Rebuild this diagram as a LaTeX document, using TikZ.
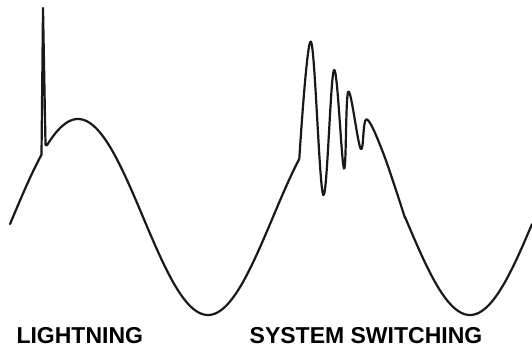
\documentclass[tikz,border=0pt]{standalone}
\usepackage{fontspec}
\newfontfamily\labfont{Liberation Sans}
\begin{document}
\begin{tikzpicture}[x=1pt,y=-1pt,
  declare function={sa(\t)=217-98*sin((\t-13)*1.384615); sb(\t)=217+98*sin((\t-405)*1.384615);},
  wave/.style={draw=black!90, line width=2.2pt, line join=round, line cap=round},
  lbl/.style={inner sep=0pt, anchor=base west, font=\labfont\bfseries\fontsize{23}{27}\selectfont}]
\useasboundingbox[fill=white] (0,0) rectangle (532,352);
\draw[wave] plot[domain=10:41.5,samples=15] (\x,{sa(\x)}) -- (43,8) -- (45.5,145)
  -- plot[domain=47:299.3,samples=120] (\x,{sa(\x)})
  -- plot[smooth,tension=0.6] coordinates {(299.3,158.8) (311,41.7) (323.3,195) (334,70) (344,168.5) (348.3,91.7) (360.7,148.8) (366.5,119.3) (383.3,153.3) (405,218)}
  -- plot[domain=405:532,samples=60] (\x,{sb(\x)});
\node[lbl] (l1) at (16.3,343.5) {LIGHTNING};
\node[lbl] (l2) at (249.5,343.5) {SYSTEM SWITCHING};
\end{tikzpicture}
\end{document}
